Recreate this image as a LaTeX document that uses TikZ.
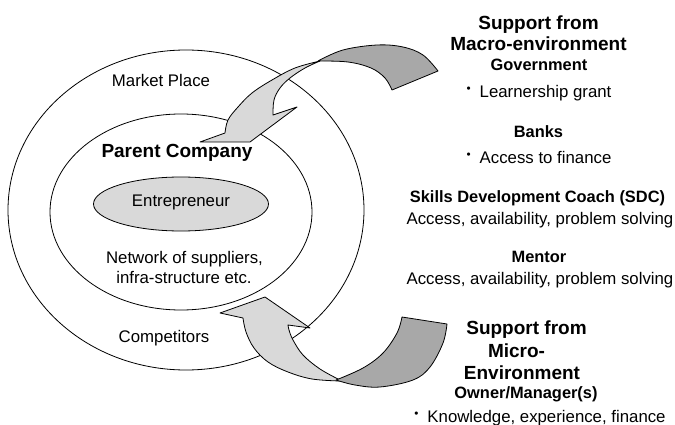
\documentclass[tikz,border=0pt]{standalone}
\usepackage{fontspec}
\setmainfont{Liberation Sans}
\usepackage{graphicx}
\usetikzlibrary{shapes.geometric}
\definecolor{lightg}{HTML}{D9D9D9}
\definecolor{darkg}{HTML}{A8A8A8}
\newcommand{\bul}{\raisebox{5pt}{\scalebox{0.7}{\textbullet}}\hspace{9pt}}
\tikzset{
  every node/.style={inner sep=0pt, outer sep=0pt},
  reg/.style={font=\fontsize{16.8}{20}\selectfont, text height=12pt, text depth=0pt},
  hdr/.style={font=\bfseries\fontsize{19}{22}\selectfont, text height=13.6pt, text depth=0pt},
  sub/.style={font=\bfseries\fontsize{16.4}{20}\selectfont, text height=11.7pt, text depth=0pt},
  ring/.style={draw, ellipse, line width=0.8pt},
  front/.style={fill=lightg, draw, line width=0.8pt, line join=round},
  back/.style={fill=darkg, draw, line width=0.8pt, line join=round},
}
\begin{document}
\begin{tikzpicture}[x=1pt,y=-1pt]
\useasboundingbox (0,0) rectangle (675,425);
% rings
\node[ring, minimum width=356pt, minimum height=320pt] (market) at (186,210) {};
\node[ring, minimum width=262pt, minimum height=196pt] (parent) at (181,212) {};
\node[ring, fill=lightg, minimum width=175pt, minimum height=54pt, reg, text depth=6pt] (ent) at (181,204) {Entrepreneur};
% labels in rings
\node[reg] (mp) at (161,81) {Market Place};
\node[hdr] (pc) at (177,151) {Parent Company};
\node[reg] (net1) at (184.5,257) {Network of suppliers,};
\node[reg] (net2) at (184,277) {infra-structure etc.};
\node[reg] (comp) at (164,336) {Competitors};
% top arrow
\path[front] plot[smooth, tension=0.6] coordinates {(320,61) (295,68) (272,80) (252,93) (238,107) (228,120) (225,133)}
  -- (200,142) -- (250,142) -- (297,107) -- (273,115)
  -- plot[smooth, tension=0.6] coordinates {(273,115) (274,100) (280,88) (290,78) (305,68) (320,61)} -- cycle;
\path[back] plot[smooth, tension=0.6] coordinates {(318,61) (343,50) (377,45) (403,47) (423,55) (438,71)}
  -- (392,90)
  -- plot[smooth, tension=0.6] coordinates {(392,90) (385,78) (371,68) (348,62) (318,61)} -- cycle;
% bottom arrow
\path[front] plot[smooth, tension=0.6] coordinates {(340,380) (320,369) (303,355) (293,340) (289,330) (288,325)}
  -- (310,328) -- (265,297) -- (220,313) -- (243,318)
  -- plot[smooth, tension=0.6] coordinates {(243,318) (246,332) (254,348) (268,362) (288,372) (312,379) (340,381)} -- cycle;
\path[back] plot[smooth, tension=0.6] coordinates {(336,380) (363,368) (383,353) (397,333) (402,317)}
  -- (447,324)
  -- plot[smooth, tension=0.6] coordinates {(447,324) (443,343) (430,367) (413,380) (380,387) (355,385) (336,380)} -- cycle;
% right text: macro
\node[hdr] (sf1) at (538.5,23) {Support from};
\node[hdr] (macro) at (538.5,44) {Macro-environment};
\node[sub] (gov) at (539,65) {Government};
\node[reg] (lg) at (539,92) {\bul Learnership grant};
\node[sub] (banks) at (538.5,132) {Banks};
\node[reg] (atf) at (539,158) {\bul Access to finance};
\node[sub] (sdc) at (537.5,197) {Skills Development Coach (SDC)};
\node[reg] (aap1) at (540,218) {Access, availability, problem solving};
\node[sub] (mentor) at (539,257) {Mentor};
\node[reg] (aap2) at (540,278) {Access, availability, problem solving};
% right text: micro
\node[hdr] (sf2) at (526.5,328) {Support from};
\node[hdr] (micro) at (516.5,351) {Micro-};
\node[hdr] (env) at (522,373) {Environment};
\node[sub] (own) at (526,393) {Owner/Manager(s)};
\node[reg] (kef) at (540,416.5) {\bul Knowledge, experience, finance};
\end{tikzpicture}
\end{document}
